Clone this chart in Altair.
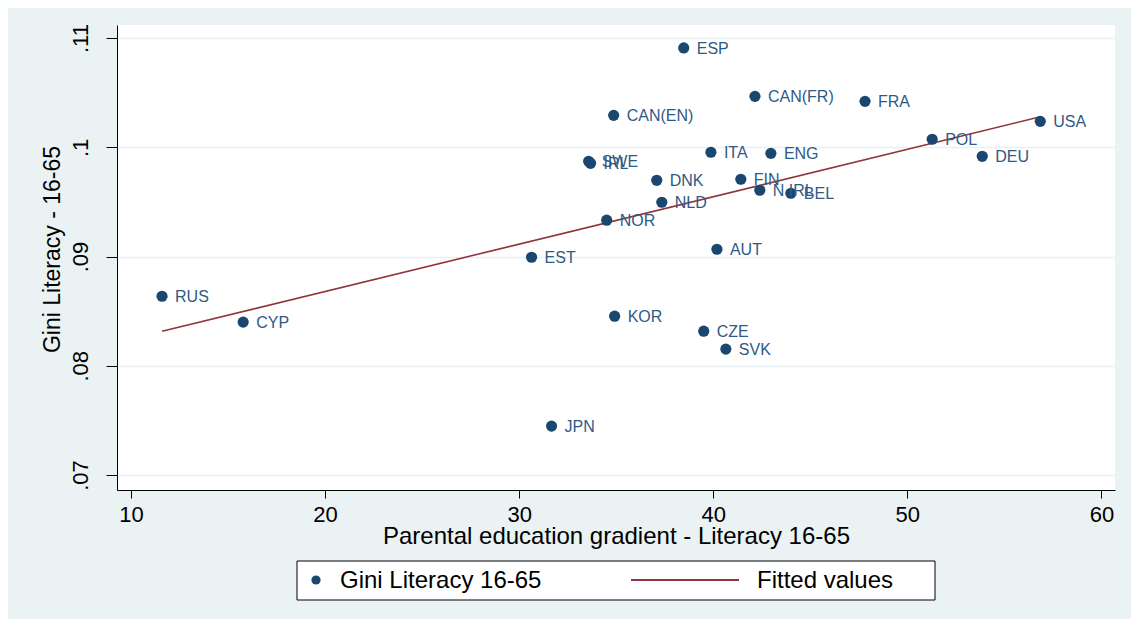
import altair as alt
import pandas as pd

countries = ["ESP", "CAN(FR)", "FRA", "CAN(EN)", "USA", "POL", "ITA", "ENG", "DEU",
             "SWE", "IRL", "DNK", "FIN", "N.IRL", "BEL", "NLD", "NOR", "AUT", "EST",
             "RUS", "CYP", "KOR", "CZE", "SVK", "JPN"]
gradient = [38.48, 42.15, 47.82, 34.87, 56.85, 51.28, 39.88, 42.97, 53.86,
            33.58, 33.68, 37.09, 41.42, 42.40, 44.00, 37.35, 34.51, 40.19, 30.64,
            11.60, 15.78, 34.92, 39.51, 40.65, 31.67]
gini = [0.1091, 0.10467, 0.10421, 0.10293, 0.10238, 0.10074, 0.09955, 0.09945, 0.09918,
        0.09872, 0.09854, 0.09698, 0.09708, 0.09607, 0.09580, 0.09497, 0.09333, 0.09067, 0.08994,
        0.08637, 0.08400, 0.08454, 0.08317, 0.08153, 0.07448]

series_names = ["Gini Literacy 16-65", "Fitted values"]
x_ticks = [10, 20, 30, 40, 50, 60]
y_ticks = [0.07, 0.08, 0.09, 0.10, 0.11]

df = pd.DataFrame({"country": countries, "grad": gradient, "gini": gini})

NAVY = "#1a476f"
RED = "#90353b"
FONT = "Liberation Sans"

xscale = alt.Scale(domain=[9.28, 60.7], nice=False, zero=False)
yscale = alt.Scale(domain=[0.06863, 0.1112], nice=False, zero=False)

xenc = alt.X("grad:Q", scale=xscale,
             axis=alt.Axis(values=x_ticks, title="Parental education gradient - Literacy 16-65",
                           grid=False, labelFontSize=22, titleFontSize=24,
                           tickSize=8, labelPadding=6, labelBaseline="top",
                           titleY=53, titleBaseline="alphabetic",
                           labelFont=FONT, titleFont=FONT, titleFontWeight="normal",
                           domainColor="#000000", tickColor="#000000",
                           labelColor="#000000", titleColor="#000000"))
yenc = alt.Y("gini:Q", scale=yscale,
             axis=alt.Axis(values=y_ticks, title="Gini Literacy - 16-65",
                           labelExpr="substring(format(datum.value, '.2~f'), 1)",
                           labelAngle=270, labelAlign="center", labelBaseline="bottom",
                           labelFontSize=22, titleFontSize=23, tickSize=11, labelPadding=14,
                           titleX=-65, titleY=224, titleAngle=270, titleAlign="center",
                           titleBaseline="middle",
                           labelFont=FONT, titleFont=FONT, titleFontWeight="normal",
                           grid=True, gridColor="#e8f0f2", gridWidth=1.5,
                           domainColor="#000000", tickColor="#000000",
                           labelColor="#000000", titleColor="#000000"))

points = alt.Chart(df).mark_point(filled=True, opacity=1, size=125, color=NAVY).encode(
    x=xenc, y=yenc)

labels = alt.Chart(df).mark_text(align="left", baseline="middle", dx=13, dy=1,
                                 fontSize=16, font=FONT, color="#2f5a85").encode(
    x=xenc, y=yenc, text="country:N")

fit = alt.Chart(df).transform_regression(
    "grad", "gini", method="linear", extent=[min(gradient), max(gradient)]
).mark_line(strokeWidth=1.6, color=RED).encode(x=xenc, y=yenc)

# legend (drawn as a boxed key below the plot)
one = alt.Chart(pd.DataFrame({"k": [0]}))
leg_box = one.mark_rect(fill="#ffffff", stroke="#000000", strokeWidth=1).encode(
    x=alt.value(180), x2=alt.value(818), y=alt.value(536), y2=alt.value(575))
leg_pt = one.mark_point(filled=True, opacity=1, size=85, color=NAVY).encode(
    x=alt.value(199), y=alt.value(555))
leg_line = one.mark_rule(color=RED, strokeWidth=2).encode(
    x=alt.value(514), x2=alt.value(622), y=alt.value(555))
leg_t1 = one.mark_text(align="left", baseline="middle", fontSize=24, font=FONT,
                       color="#000000").encode(
    x=alt.value(223), y=alt.value(556), text=alt.value(series_names[0]))
leg_t2 = one.mark_text(align="left", baseline="middle", fontSize=24, font=FONT,
                       color="#000000").encode(
    x=alt.value(640), y=alt.value(556), text=alt.value(series_names[1]))

chart = alt.layer(fit, points, labels, leg_box, leg_pt, leg_line, leg_t1, leg_t2).properties(
    width=998, height=465,
    autosize=alt.AutoSizeParams(type="none"),
    padding={"left": 109, "top": 17, "right": 16, "bottom": 129},
    background="#eaf2f3",
).configure_view(fill="#ffffff", stroke=None)

chart.save("out.html", embed_options={"renderer": "svg", "actions": False})
